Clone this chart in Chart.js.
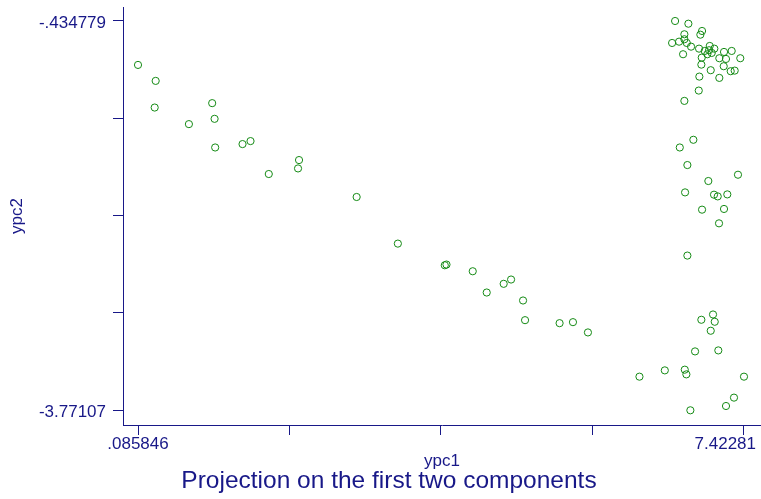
<!DOCTYPE html>
<html>
<head>
<meta charset="utf-8">
<script src="https://cdn.jsdelivr.net/npm/chart.js@4.4.1/dist/chart.umd.min.js"></script>
<style>
  html, body { margin: 0; padding: 0; background: #fff; }
  #wrap { width: 761px; height: 499px; }
</style>
</head>
<body>
<div id="wrap"><canvas id="myChart"></canvas></div>
<script>
// scores on the first two principal components
const ypc1 = [
  0.085846, 0.2997, 0.2877, 0.9839, 1.0129, 0.7022, 1.0201, 1.3513, 1.4480, 1.6692,
  2.0354, 2.0233, 2.7329, 3.2320, 3.8001, 3.8207, 4.1386, 4.3078, 4.5133, 4.6027,
  4.7478, 4.7719, 5.1901, 5.3521, 5.5334,
  6.9065, 7.0479, 7.0685, 7.0201, 6.8303, 7.1120, 6.1571, 6.4641, 6.7058, 6.7252,
  7.42281, 7.3017, 7.2050, 6.7735,
  6.8098, 6.6454, 6.7373, 7.3501, 6.9911, 6.7095, 7.0600, 7.1047, 7.2208, 6.9150,
  7.1809, 7.1204, 6.7373,
  6.5886, 6.7494, 6.7010, 6.9150, 6.8944, 6.5523, 6.6370, 6.7010, 6.7300, 6.7820,
  6.8787, 7.0080, 7.0636, 6.9476, 6.9996, 6.9790, 7.0322, 6.6853, 6.9113, 7.1809,
  7.2739, 7.1240, 7.2050, 7.3779, 6.9065, 7.1772, 7.0201, 7.2619, 7.3102, 7.1240,
  6.8823, 6.8751, 6.7010
];
const ypc2 = [
  -0.8112, -0.9481, -1.1765, -1.1388, -1.2732, -1.3185, -1.5187, -1.4896, -1.4639, -1.7462,
  -1.6265, -1.6983, -1.9430, -2.3425, -2.5281, -2.5221, -2.5794, -2.7617, -2.6872, -2.6504,
  -2.8301, -2.9986, -3.0243, -3.0157, -3.1038,
  -2.9952, -2.9499, -3.0123, -3.0893, -3.2664, -3.2578, -3.4828, -3.4289, -3.4229, -3.4631,
  -3.4828, -3.6625, -3.7343, -3.77107,
  -1.4528, -1.5187, -1.6692, -1.7522, -1.8061, -1.9036, -1.9233, -1.9379, -1.9207, -2.0516,
  -2.0456, -2.1688, -2.4451,
  -0.434779, -0.4579, -0.5486, -0.5203, -0.5520, -0.6230, -0.6119, -0.5913, -0.6230, -0.6546,
  -0.6717, -0.6487, -0.6717, -0.6914, -0.6854, -0.7196, -0.7085, -0.7196, -0.7487, -0.6999,
  -0.6914, -0.7539, -0.7599, -0.7539, -0.8086, -0.8223, -0.8565, -0.8651, -0.8600, -0.9224,
  -0.9113, -1.0310, -1.1195
];

// axis ticks: only the range ends get a label
const xTicks = [0.085846, 1.920087, 3.754328, 5.588569, 7.42281];
const xTickLabels = ['.085846', '', '', '', '7.42281'];
const yTicks = [-3.77107, -2.936997, -2.102925, -1.268852, -0.434779];
const yTickLabels = ['-3.77107', '', '', '', '-.434779'];

const NAVY = 'rgb(24,24,136)';
const GREEN = 'rgb(20,138,20)';
const FONT = '"Liberation Sans", Arial, sans-serif';

const points = ypc1.map((x, i) => ({ x: x, y: ypc2[i] }));

// titles and x tick labels (last one is kept inside the canvas)
const textPlugin = {
  id: 'stataText',
  afterDraw(chart) {
    const ctx = chart.ctx;
    const area = chart.chartArea;
    const xs = chart.scales.x;
    ctx.save();
    ctx.fillStyle = NAVY;
    ctx.textBaseline = 'alphabetic';
    ctx.textAlign = 'center';

    ctx.font = '17px ' + FONT;
    xs.ticks.forEach((t, i) => {
      const label = xTickLabels[i];
      if (!label) return;
      const w = ctx.measureText(label).width;
      let px = xs.getPixelForValue(t.value);
      px = Math.min(px, chart.width - 5 - w / 2);
      ctx.fillText(label, px, 449);
    });

    ctx.fillText('ypc1', (area.left + area.right) / 2, 465.5);

    ctx.save();
    ctx.translate(22, (area.top + area.bottom) / 2);
    ctx.rotate(-Math.PI / 2);
    ctx.fillText('ypc2', 0, 0);
    ctx.restore();

    ctx.font = '24.5px ' + FONT;
    ctx.fillText('Projection on the first two components', 389, 488);
    ctx.restore();
  }
};

const config = {
  type: 'scatter',
  data: {
    datasets: [{
      label: 'ypc2',
      data: points,
      pointStyle: 'circle',
      pointRadius: 3.6,
      pointBorderWidth: 1,
      pointBorderColor: GREEN,
      pointBackgroundColor: 'rgba(0,0,0,0)',
      showLine: false
    }]
  },
  options: {
    responsive: true,
    maintainAspectRatio: false,
    animation: false,
    layout: { autoPadding: false, padding: { top: 7, right: 0, bottom: 0, left: 0 } },
    plugins: {
      legend: { display: false },
      tooltip: { enabled: false },
      title: { display: false }
    },
    scales: {
      x: {
        type: 'linear',
        min: -0.09585,
        max: 7.62873,
        afterBuildTicks: (scale) => { scale.ticks = xTicks.map(v => ({ value: v })); },
        afterFit: (scale) => {
          scale.height = 74;
          scale.paddingLeft = 0;
          scale.paddingRight = 0;
        },
        ticks: { display: false, autoSkip: false },
        grid: { drawOnChartArea: false, drawTicks: true, tickLength: 10, color: NAVY, lineWidth: 1 },
        border: { display: true, color: NAVY, width: 1 }
      },
      y: {
        type: 'linear',
        min: -3.89705,
        max: -0.3148,
        afterBuildTicks: (scale) => { scale.ticks = yTicks.map(v => ({ value: v })); },
        afterFit: (scale) => {
          scale.width = 123;
          scale.paddingTop = 0;
          scale.paddingBottom = 0;
        },
        ticks: {
          autoSkip: false,
          padding: 7,
          labelOffset: 2,
          color: NAVY,
          font: { family: FONT, size: 17 },
          callback: (value, index) => yTickLabels[index]
        },
        grid: { drawOnChartArea: false, drawTicks: true, tickLength: 10, color: NAVY, lineWidth: 1 },
        border: { display: true, color: NAVY, width: 1 }
      }
    }
  },
  plugins: [textPlugin]
};

const myChart = new Chart(document.getElementById('myChart'), config);
</script>
</body>
</html>
